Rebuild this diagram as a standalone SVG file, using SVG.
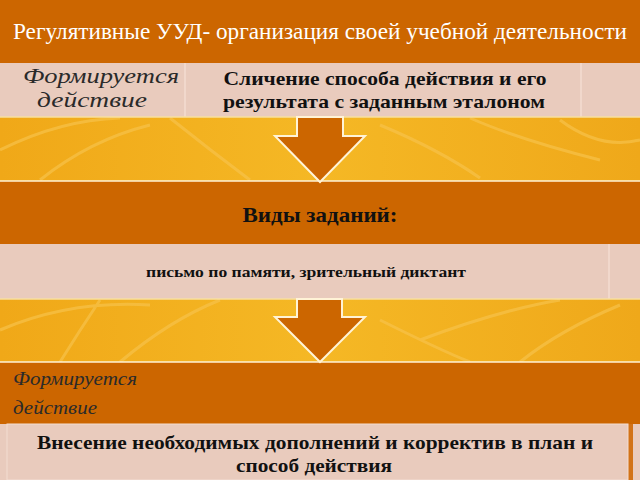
<svg xmlns="http://www.w3.org/2000/svg" width="640" height="480" viewBox="0 0 640 480">
<defs>
<style>
.orange{fill:#CC6600}
.pink{fill:#E9CBBD}
.cellline{stroke:#F3DDD2;stroke-width:1.5}
.title{font-family:"Liberation Serif",serif;font-size:23px;fill:#FFFFFF}
.ital{font-family:"Liberation Serif",serif;font-style:italic;fill:#2A2A2A}
.bold{font-family:"Liberation Serif",serif;font-weight:bold;fill:#111111}
.arrow{fill:#CC6600;stroke:#FFF3D6;stroke-width:2;stroke-linejoin:miter}
.leaf{fill:none;stroke:#F7C24A;stroke-width:3;opacity:0.7}
</style>
<linearGradient id="gold" x1="0" y1="0" x2="1" y2="0">
<stop offset="0" stop-color="#F0A818"/>
<stop offset="0.5" stop-color="#F5B825"/>
<stop offset="1" stop-color="#EFA81A"/>
</linearGradient>
</defs>

<g id="background">
<rect x="0" y="0" width="640" height="480" fill="url(#gold)"/>
<path class="leaf" d="M0 150 Q60 120 120 118 M40 180 Q90 140 150 125 M170 118 Q210 150 250 180 M380 125 Q440 150 480 178 M470 118 Q520 140 600 160 M560 120 Q600 150 640 140"/>
<path class="leaf" d="M0 330 Q70 300 150 305 M120 362 Q170 320 220 300 M60 362 Q80 330 100 300 M420 340 Q500 310 560 300 M520 362 Q560 330 620 305 M380 320 Q440 350 470 362"/>
</g>

<g id="header">
<rect class="orange" x="0" y="0" width="640" height="63"/>
<text class="title" x="320" y="39" text-anchor="middle" textLength="614" lengthAdjust="spacingAndGlyphs">Регулятивные УУД- организация своей учебной деятельности</text>
</g>

<g id="row1">
<rect class="pink" x="0" y="63" width="640" height="54"/>
<line class="cellline" x1="185" y1="63" x2="185" y2="117"/>
<line class="cellline" x1="581" y1="63" x2="581" y2="117"/>
<line x1="0" y1="117" x2="640" y2="117" stroke="#F7DFA0" stroke-width="1.5"/>
<text class="ital" font-size="22" text-anchor="middle"><tspan x="101" y="83" textLength="156" lengthAdjust="spacingAndGlyphs">Формируется</tspan><tspan x="92" y="107" textLength="110" lengthAdjust="spacingAndGlyphs">действие</tspan></text>
<text class="bold" font-size="19" text-anchor="middle"><tspan x="385" y="85" textLength="323" lengthAdjust="spacingAndGlyphs">Сличение способа действия и его</tspan><tspan x="384" y="108" textLength="322" lengthAdjust="spacingAndGlyphs">результата с заданным эталоном</tspan></text>
</g>

<g id="types">
<rect class="orange" x="0" y="181" width="640" height="63"/>
<line x1="0" y1="181" x2="640" y2="181" stroke="#FFF3D6" stroke-width="1.5"/>
<text class="bold" font-size="21" x="320" y="222" text-anchor="middle" textLength="155" lengthAdjust="spacingAndGlyphs">Виды заданий:</text>
</g>

<g id="tasks">
<rect class="pink" x="0" y="244" width="640" height="55"/>
<line class="cellline" x1="609" y1="244" x2="609" y2="299"/>
<line x1="0" y1="299" x2="640" y2="299" stroke="#F7DFA0" stroke-width="1.5"/>
<text class="bold" font-size="14" x="306" y="277" text-anchor="middle" textLength="320" lengthAdjust="spacingAndGlyphs">письмо по памяти, зрительный диктант</text>
</g>

<g id="forms2">
<rect class="orange" x="0" y="362" width="640" height="62"/>
<line x1="0" y1="362" x2="640" y2="362" stroke="#FFF3D6" stroke-width="1.5"/>
<text class="ital" font-size="19"><tspan x="13" y="385" textLength="124" lengthAdjust="spacingAndGlyphs">Формируется</tspan><tspan x="13" y="414" textLength="84" lengthAdjust="spacingAndGlyphs">действие</tspan></text>
</g>

<g id="correction">
<rect class="pink" x="0" y="424" width="640" height="56"/>
<rect x="628" y="424" width="5" height="56" fill="#D27318"/>
<rect class="pink" x="7" y="424" width="621" height="56" stroke="#F3DDD2" stroke-width="1"/>
<text class="bold" font-size="19" text-anchor="middle"><tspan x="315" y="449" textLength="556" lengthAdjust="spacingAndGlyphs">Внесение необходимых дополнений и корректив в план и</tspan><tspan x="314" y="472" textLength="156" lengthAdjust="spacingAndGlyphs">способ действия</tspan></text>
</g>

<g id="connectors">
<path class="arrow" d="M297 117 L343 117 L343 136 L365 136 L320 182 L275 136 L297 136 Z"/>
<path class="arrow" d="M297 299 L342 299 L342 317 L365 317 L320 362 L275 317 L297 317 Z"/>
</g>
</svg>
